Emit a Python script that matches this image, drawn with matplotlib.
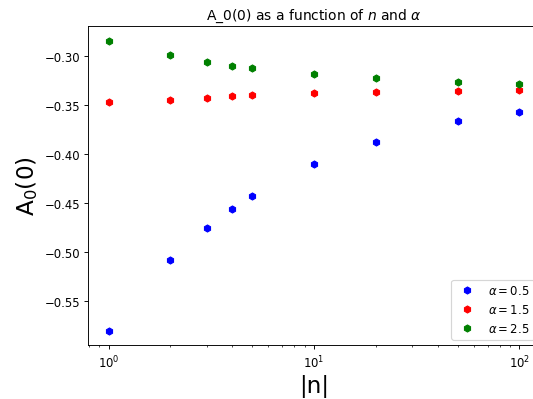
import numpy as np
import matplotlib
matplotlib.use("Agg")
from matplotlib import pyplot as plt

n = [1, 2, 3, 4, 5, 10, 20, 50, 100]
alphas = [0.5, 1.5, 2.5]
colors = ['blue', 'red', 'green']

A_05 = [-0.5808, -0.5085, -0.4760, -0.4565, -0.4431, -0.4106, -0.3880, -0.3664, -0.3572]
A_15 = [-0.3469, -0.3449, -0.3428, -0.3408, -0.3397, -0.3377, -0.3367, -0.3356, -0.3346]
A_25 = [-0.2843, -0.2987, -0.3059, -0.3096, -0.3123, -0.3182, -0.3219, -0.3264, -0.3284]

fig = plt.figure(figsize=(6.4, 4.8), dpi=533 / 6.4)
ax = fig.add_axes([88 / 533, 1 - 345.5 / 399, 452 / 533, 318.5 / 399])

for a, vals, c in zip(alphas, [A_05, A_15, A_25], colors):
    ax.plot(n, vals, 'h', color=c, label=r'$\alpha = %s$' % a)

ax.set_xscale('log')
ax.set_xlabel('|n|', fontsize=20)
ax.set_ylabel(r'$\mathrm{A_0(0)}$', fontsize=20)
ax.set_title(r'A_0(0) as a function of $n$ and $\alpha$')
ax.legend(loc='lower right')

fig.savefig('out.png', dpi=533 / 6.4)
